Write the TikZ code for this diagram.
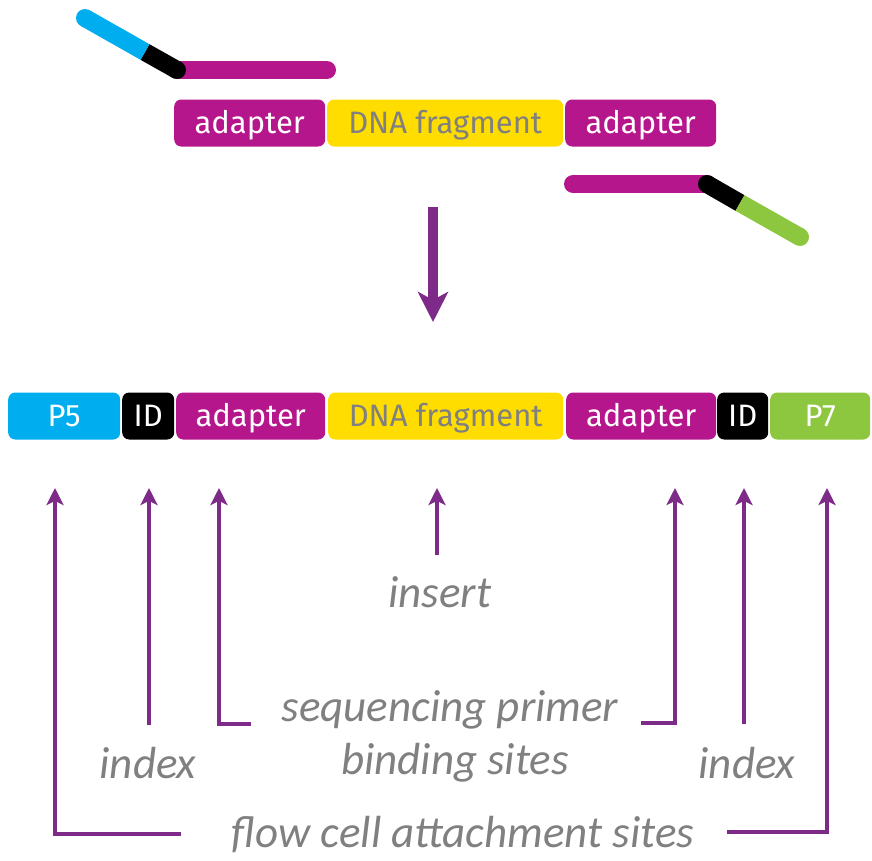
\documentclass[tikz,border=0pt]{standalone}
\usepackage{fontspec}
\setmainfont{Fira Sans}
\newfontfamily\labelfont{Carlito}
\usetikzlibrary{arrows.meta}
\definecolor{cyanc}{HTML}{00AEEF}
\definecolor{magc}{HTML}{B5168B}
\definecolor{yelc}{HTML}{FFDD00}
\definecolor{grnc}{HTML}{8DC63F}
\definecolor{purc}{HTML}{7E2A88}
\definecolor{greyt}{HTML}{808080}
\tikzset{
  seg/.style={rounded corners=7pt, minimum height=47pt, inner sep=0pt, anchor=west,
    text height=24pt, text depth=4pt,
    font=\fontsize{31}{33}\selectfont, text=white},
  strand/.style={line width=18pt},
  uparrow/.style={draw=purc, line width=3.2pt, -{Stealth[length=17pt,width=17pt,inset=4pt]}},
  bigarrow/.style={draw=purc, line width=10pt, -{Stealth[length=30pt,width=30pt,inset=8pt]}},
  lab/.style={font=\labelfont\itshape\fontsize{45}{47}\selectfont, text=greyt},
}
\begin{document}
\begin{tikzpicture}[x=1pt,y=-1pt]
\useasboundingbox (0,0) rectangle (872,860);
% top row
\node[seg, fill=magc, minimum width=151pt] (ad1) at (174,123) {adapter};
\node[seg, fill=yelc, minimum width=236pt, text=greyt] (dna1) at (327,123) {DNA fragment};
\node[seg, fill=magc, minimum width=151pt] (ad2) at (565,123) {adapter};
% top-left strand
\draw[strand, magc, line cap=round] (177,70) -- (327,70);
\draw[strand, black, line cap=butt] (145,52) -- (177,70);
\fill[black] (177,70) circle (9pt);
\fill[cyanc] (85,18) circle (9pt);
\draw[strand, cyanc, line cap=butt] (85,18) -- (145,52);
% bottom-right strand
\draw[strand, magc, line cap=round] (573,184) -- (707,184);
\draw[strand, black, line cap=butt] (707,184) -- (740,203);
\fill[black] (707,184) circle (9pt);
\draw[strand, grnc, line cap=butt] (740,203) -- (800,237);
\fill[grnc] (800,237) circle (9pt);
% big arrow
\coordinate (ba1) at (433,207);
\coordinate (ba2) at (433,322);
\draw[bigarrow] (ba1) -- (ba2);
% bottom row
\node[seg, fill=cyanc, minimum width=112pt] (p5) at (8,416) {P5};
\node[seg, fill=black, minimum width=52pt] (id1) at (122,416) {ID};
\node[seg, fill=magc, minimum width=149pt] (ad3) at (176,416) {adapter};
\node[seg, fill=yelc, minimum width=235pt, text=greyt] (dna2) at (328,416) {DNA fragment};
\node[seg, fill=magc, minimum width=150pt] (ad4) at (566,416) {adapter};
\node[seg, fill=black, minimum width=51pt] (id2) at (717,416) {ID};
\node[seg, fill=grnc, minimum width=100pt] (p7) at (770,416) {P7};
% labels
\node[lab] (ins) at (440,592) {insert};
\node[lab] (seq) at (450,710) {sequencing primer};
\node[lab] (bind) at (455,763) {binding sites};
\node[lab] (idxl) at (148,763) {index};
\node[lab] (idxr) at (747,763) {index};
\node[lab] (flow) at (463,835) {flow cell attachment sites};
% arrow endpoints
\coordinate (t1) at (55,488);
\coordinate (t2) at (149,488);
\coordinate (t3) at (219,488);
\coordinate (t4) at (437,488);
\coordinate (t5) at (675,488);
\coordinate (t6) at (744,488);
\coordinate (t7) at (827,488);
\coordinate (b2) at (149,725);
\coordinate (b4) at (437,555);
\coordinate (b6) at (744,724);
\coordinate (fl) at (181,834);
\coordinate (fr) at (727,832);
\coordinate (sl) at (251,724);
\coordinate (sr) at (641,723);
\draw[uparrow] (fl) -| (t1);
\draw[uparrow] (b2) -- (t2);
\draw[uparrow] (sl) -| (t3);
\draw[uparrow] (b4) -- (t4);
\draw[uparrow] (sr) -| (t5);
\draw[uparrow] (b6) -- (t6);
\draw[uparrow] (fr) -| (t7);
\end{tikzpicture}
\end{document}
